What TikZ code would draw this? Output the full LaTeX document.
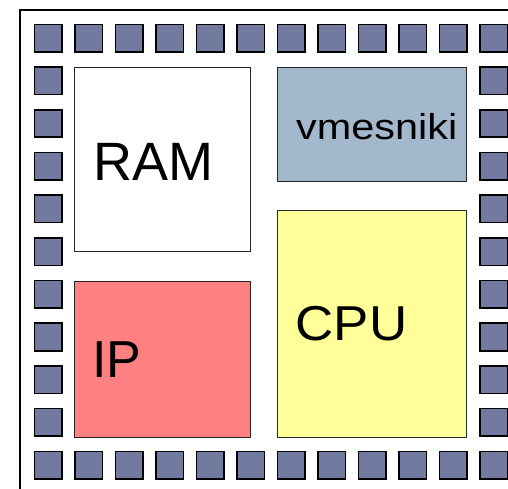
\documentclass[tikz,border=0pt]{standalone}
\usepackage{fontspec}
\setmainfont{Liberation Sans}
\definecolor{padfill}{RGB}{114,122,160}
\definecolor{vmfill}{RGB}{163,184,204}
\definecolor{cpufill}{RGB}{255,255,153}
\definecolor{ipfill}{RGB}{255,128,128}
\begin{document}
\begin{tikzpicture}[x=1pt,y=-1pt,
  pad/.style={draw=black,line width=1.6pt,fill=padfill,inner sep=0pt,minimum width=27.5pt,minimum height=27.5pt,anchor=north west},
  blockbox/.style={draw=black!85,line width=1.3pt,inner sep=0pt,anchor=north west},
  lbl/.style={inner sep=0pt,anchor=base west}]
\useasboundingbox (0,0) rectangle (508,488);
\clip (0,0) rectangle (508,488);
\fill[white] (0,0) rectangle (508,488);
% outer frame
\draw[line width=2pt] (20,520) -- (20,9.5) -- (540,9.5);
% pads: top and bottom rows
\foreach \i in {0,...,11}{
  \node[pad] (t\i) at ({33.5+40.5*\i},23.5) {};
  \node[pad] (b\i) at ({33.5+40.5*\i},450.5) {};
}
% pads: side columns
\foreach \j in {1,...,9}{
  \node[pad] (l\j) at (33.5,{23.5+42.7*\j}) {};
  \node[pad] (r\j) at (479,{23.5+42.7*\j}) {};
}
% blocks
\node[blockbox,fill=white,minimum width=176pt,minimum height=184pt] (ram) at (73.5,66.5) {};
\node[blockbox,fill=vmfill,minimum width=189pt,minimum height=114pt] (vm) at (276.5,66.5) {};
\node[blockbox,fill=cpufill,minimum width=189pt,minimum height=227pt] (cpu) at (276.5,209.5) {};
\node[blockbox,fill=ipfill,minimum width=176pt,minimum height=156pt] (ip) at (73.5,280.5) {};
% labels
\node[lbl,font=\fontsize{54}{54}\selectfont] (ramt) at (93,180) {RAM};
\node[lbl,font=\fontsize{36}{36}\selectfont,xscale=1.15] (vmt) at (296,139) {vmesniki};
\node[lbl,font=\fontsize{49}{49}\selectfont,xscale=1.08] (cput) at (295.5,340) {CPU};
\node[lbl,font=\fontsize{52}{52}\selectfont] (ipt) at (92,377) {IP};
\end{tikzpicture}
\end{document}
